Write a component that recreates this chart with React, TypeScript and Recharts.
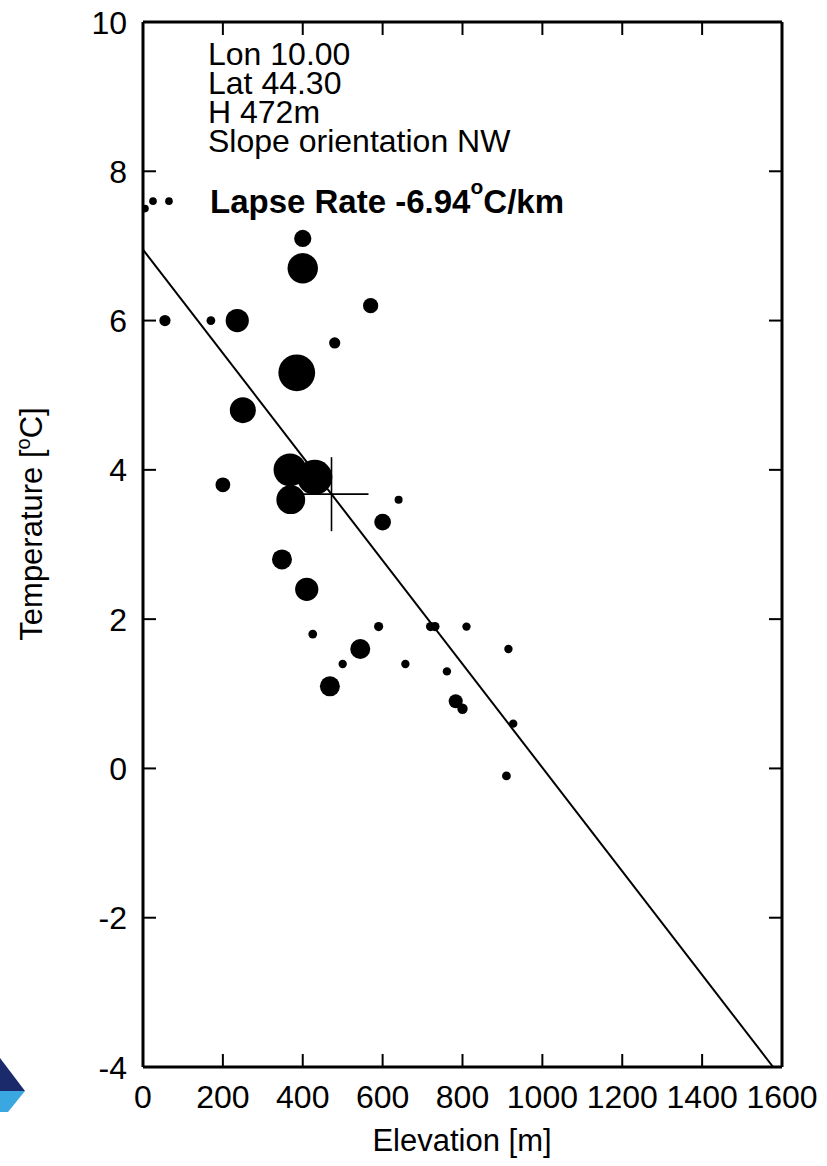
import React from 'react';
import { ScatterChart, Scatter, XAxis, YAxis, ReferenceLine, Customized } from 'recharts';

const FONT = '"Liberation Sans", Arial, Helvetica, sans-serif';

// Axis ticks
const elevationTicks = [0, 200, 400, 600, 800, 1000, 1200, 1400, 1600];
const temperatureTicks = [-4, -2, 0, 2, 4, 6, 8, 10];

// Station description
const stationLon = 10.0;
const stationLat = 44.3;
const stationH = 472; // m
const slopeOrientation = 'NW';

// Fitted lapse rate (°C/km) and its sea-level intercept (°C)
const lapseRate = -6.94;
const lapseIntercept = 6.95;

// Surrounding stations: elevation (m), mean temperature (°C), weight
const elevations = [
  5, 25, 65, 400, 400, 570, 55, 170, 236, 480, 385, 250, 368, 430, 370, 200, 640, 600,
  348, 410, 425, 590, 720, 731, 810, 544, 915, 500, 657, 761, 468, 783, 800, 927, 910,
];
const temperatures = [
  7.5, 7.6, 7.6, 7.1, 6.7, 6.2, 6.0, 6.0, 6.0, 5.7, 5.3, 4.8, 4.0, 3.9, 3.6, 3.8, 3.6, 3.3,
  2.8, 2.4, 1.8, 1.9, 1.9, 1.9, 1.9, 1.6, 1.6, 1.4, 1.4, 1.3, 1.1, 0.9, 0.8, 0.6, -0.1,
];
const weights = [
  0.95, 0.95, 0.95, 2.15, 3.8, 1.9, 1.4, 1.1, 2.9, 1.4, 4.6, 3.25, 4.1, 4.4, 3.6, 1.85, 1.0, 2.1,
  2.5, 2.9, 1.1, 1.15, 1.15, 1.15, 1.05, 2.5, 1.05, 1.05, 1.05, 1.05, 2.5, 1.75, 1.3, 1.05, 1.1,
];

const stations = elevations.map((h, i) => ({ h, t: temperatures[i], w: weights[i] }));

const X_MIN = 0;
const X_MAX = 1600;
const Y_MIN = -4;
const Y_MAX = 10;

const stationT = lapseIntercept + (lapseRate * stationH) / 1000;
const lineEndH = ((Y_MIN - lapseIntercept) * 1000) / lapseRate;
const stationPoint = [{ h: stationH, t: stationT }];

const POINT_UNIT = 4; // radius in px for weight 1
const TICK_LEN = 13; // inward tick length
const LABEL_GAP = 16; // gap between frame and tick labels
const TICK_STROKE = 2;

const StationDot = (props: any) => {
  const { cx, cy, payload } = props;
  return <circle cx={cx} cy={cy} r={POINT_UNIT * payload.w} fill="#000" />;
};

const CrossMark = (props: any) => {
  const { cx, cy } = props;
  const a = 37;
  return (
    <g stroke="#000" strokeWidth={1.6}>
      <line x1={cx - a} y1={cy} x2={cx + a} y2={cy} />
      <line x1={cx} y1={cy - a} x2={cx} y2={cy + a} />
    </g>
  );
};

// Bottom tick: label below the frame plus an inward tick mark
const BottomTick = (props: any) => {
  const { x, y, payload } = props;
  const axisY = y - LABEL_GAP;
  return (
    <g>
      <line x1={x} x2={x} y1={axisY} y2={axisY - TICK_LEN} stroke="#000" strokeWidth={TICK_STROKE} />
      <text x={x} y={y} dy="0.78em" textAnchor="middle" fontSize={32} fontFamily={FONT} fill="#000">
        {payload.value}
      </text>
    </g>
  );
};

// Left tick: label left of the frame plus an inward tick mark
const LeftTick = (props: any) => {
  const { x, y, payload } = props;
  const axisX = x + LABEL_GAP;
  return (
    <g>
      <line x1={axisX} x2={axisX + TICK_LEN} y1={y} y2={y} stroke="#000" strokeWidth={TICK_STROKE} />
      <text x={x} y={y} dy="0.36em" textAnchor="end" fontSize={32} fontFamily={FONT} fill="#000">
        {payload.value}
      </text>
    </g>
  );
};

// Top frame: inward tick marks only
const TopTick = (props: any) => {
  const { x, y } = props;
  return <line x1={x} x2={x} y1={y} y2={y + TICK_LEN} stroke="#000" strokeWidth={TICK_STROKE} />;
};

// Right frame: inward tick marks only
const RightTick = (props: any) => {
  const { x, y } = props;
  return <line x1={x} x2={x - TICK_LEN} y1={y} y2={y} stroke="#000" strokeWidth={TICK_STROKE} />;
};

const Annotations = () => (
  <g fontFamily={FONT} fill="#000">
    <text x={208} y={65} fontSize={32}>Lon {stationLon.toFixed(2)}</text>
    <text x={208} y={94} fontSize={32}>Lat {stationLat.toFixed(2)}</text>
    <text x={208} y={123} fontSize={32}>H {stationH}m</text>
    <text x={208} y={152} fontSize={32}>Slope orientation {slopeOrientation}</text>
    <text x={210} y={213} fontSize={33} fontWeight="bold">
      Lapse Rate {lapseRate.toFixed(2)}
      <tspan fontSize={21} dy={-19}>o</tspan>
      <tspan dy={19}>C/km</tspan>
    </text>
    <text x={462} y={1151} fontSize={31} textAnchor="middle">Elevation [m]</text>
    <text transform="translate(42,524) rotate(-90)" fontSize={31} textAnchor="middle">
      Temperature [<tspan fontSize={20} dy={-12}>o</tspan><tspan dy={12}>C]</tspan>
    </text>
    <polygon points="0,1058 25,1091 0,1091" fill="#1b2a6b" />
    <polygon points="0,1091 25,1091 8,1112 0,1112" fill="#3aa7e0" />
  </g>
);

const axisLineStyle = { stroke: '#000', strokeWidth: 3 };

export default function App() {
  return (
    <div style={{ position: 'absolute', left: 0, top: 0, background: '#fff' }}>
      <ScatterChart
        width={827}
        height={1166}
        margin={{ top: 22, right: 45, bottom: 0, left: 0 }}
      >
        <XAxis
          xAxisId="b"
          type="number"
          dataKey="h"
          domain={[X_MIN, X_MAX]}
          ticks={elevationTicks}
          interval={0}
          allowDataOverflow
          height={99}
          tickSize={0}
          tickMargin={LABEL_GAP}
          tick={BottomTick}
          tickLine={false}
          axisLine={axisLineStyle}
        />
        <XAxis
          xAxisId="t"
          orientation="top"
          mirror
          type="number"
          dataKey="h"
          domain={[X_MIN, X_MAX]}
          ticks={elevationTicks}
          interval={0}
          allowDataOverflow
          height={1}
          tickSize={0}
          tickMargin={0}
          tick={TopTick}
          tickLine={false}
          axisLine={axisLineStyle}
        />
        <YAxis
          yAxisId="l"
          type="number"
          dataKey="t"
          domain={[Y_MIN, Y_MAX]}
          ticks={temperatureTicks}
          interval={0}
          allowDataOverflow
          width={143}
          tickSize={0}
          tickMargin={LABEL_GAP}
          tick={LeftTick}
          tickLine={false}
          axisLine={axisLineStyle}
        />
        <YAxis
          yAxisId="r"
          orientation="right"
          mirror
          type="number"
          dataKey="t"
          domain={[Y_MIN, Y_MAX]}
          ticks={temperatureTicks}
          interval={0}
          allowDataOverflow
          width={1}
          tickSize={0}
          tickMargin={0}
          tick={RightTick}
          tickLine={false}
          axisLine={axisLineStyle}
        />
        <ReferenceLine
          xAxisId="b"
          yAxisId="l"
          segment={[
            { x: 0, y: lapseIntercept },
            { x: lineEndH, y: Y_MIN },
          ]}
          stroke="#000"
          strokeWidth={2}
          ifOverflow="visible"
        />
        <Scatter
          xAxisId="b"
          yAxisId="l"
          data={stations}
          shape={StationDot}
          isAnimationActive={false}
        />
        <Scatter
          xAxisId="t"
          yAxisId="r"
          data={stationPoint}
          shape={CrossMark}
          isAnimationActive={false}
        />
        <Customized component={Annotations} />
      </ScatterChart>
    </div>
  );
}
